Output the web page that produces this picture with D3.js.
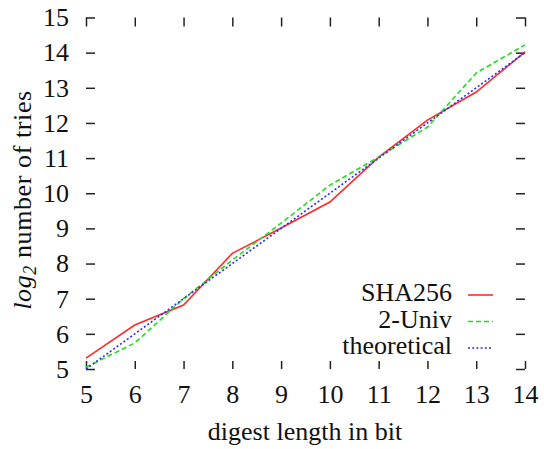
<!DOCTYPE html>
<html>
<head>
<meta charset="utf-8">
<script src="https://cdn.jsdelivr.net/npm/d3@7"></script>
<style>
  body { margin: 0; background: #fff; }
</style>
</head>
<body>
<div id="chart"></div>
<script>
// data
var digestBits = [5, 6, 7, 8, 9, 10, 11, 12, 13, 14];
var sha256Tries = [5.31, 6.25, 6.82, 8.29, 9.01, 9.75, 11.03, 12.08, 12.88, 14.02];
var univTries = [5.05, 5.74, 7.0, 8.1, 9.15, 10.23, 11.03, 11.88, 13.42, 14.22];
var theoreticalTries = [5, 6, 7, 8, 9, 10, 11, 12, 13, 14];
var xTicks = [5, 6, 7, 8, 9, 10, 11, 12, 13, 14];
var yTicks = [5, 6, 7, 8, 9, 10, 11, 12, 13, 14, 15];
var seriesNames = ["SHA256", "2-Univ", "theoretical"];

var svgWidth = 544;
var svgHeight = 449;
var fontSize = 26;
var serif = "Liberation Serif";

var svg = d3.select("#chart")
  .append("svg")
  .attr("width", svgWidth)
  .attr("height", svgHeight)
  .attr("font-family", serif);

var xScale = d3.scaleLinear().domain([5, 14]).range([86, 525]);
var yScale = d3.scaleLinear().domain([5, 15]).range([369, 17.5]);

// axes: ticks only, pointing inwards, no border line
function styleAxis(g) {
  g.attr("font-family", serif).attr("font-size", fontSize);
  g.select(".domain").remove();
  g.selectAll("line").attr("stroke", "#222").attr("stroke-width", 1.5);
  g.selectAll("text")
    .attr("font-family", serif)
    .attr("font-size", fontSize)
    .attr("fill", "#111");
}

svg.append("g")
  .attr("transform", `translate(0, ${yScale(5)})`)
  .call(d3.axisBottom(xScale).tickValues(xTicks).tickSize(-8).tickPadding(15.5))
  .call(styleAxis);

svg.append("g")
  .attr("transform", `translate(0, ${yScale(15)})`)
  .call(d3.axisTop(xScale).tickValues(xTicks).tickSize(-9).tickFormat(""))
  .call(styleAxis);

svg.append("g")
  .attr("transform", `translate(${xScale(5)}, 0)`)
  .call(d3.axisLeft(yScale).tickValues(yTicks).tickSize(-9).tickPadding(17))
  .call(styleAxis);

svg.append("g")
  .attr("transform", `translate(${xScale(14)}, 0)`)
  .call(d3.axisRight(yScale).tickValues(yTicks).tickSize(-9).tickFormat(""))
  .call(styleAxis);

// lines
var series = [
  { name: seriesNames[0], values: sha256Tries, color: "#ff2a2a", dash: null },
  { name: seriesNames[1], values: univTries, color: "#22dd22", dash: "5,3" },
  { name: seriesNames[2], values: theoreticalTries, color: "#2a2aff", dash: "2,2.2" }
];

var line = d3.line()
  .x((d, i) => xScale(digestBits[i]))
  .y(d => yScale(d));

series.forEach(function(s) {
  svg.append("path")
    .datum(s.values)
    .attr("d", line)
    .attr("fill", "none")
    .attr("stroke", s.color)
    .attr("stroke-width", 1.6)
    .attr("stroke-dasharray", s.dash);
});

// legend
var legend = svg.append("g");
series.forEach(function(s, i) {
  var base = 301 + i * 26.5;
  legend.append("text")
    .attr("x", 452)
    .attr("y", base)
    .attr("text-anchor", "end")
    .attr("fill", "#111")
    .attr("font-family", serif)
    .attr("font-size", fontSize)
    .text(s.name);
  legend.append("line")
    .attr("x1", 468)
    .attr("x2", 493)
    .attr("y1", base - 6)
    .attr("y2", base - 6)
    .attr("stroke", s.color)
    .attr("stroke-width", 1.6)
    .attr("stroke-dasharray", s.dash);
});

// axis titles
svg.append("text")
  .attr("x", 305)
  .attr("y", 440)
  .attr("text-anchor", "middle")
  .attr("fill", "#111")
  .attr("font-family", serif)
  .attr("font-size", fontSize)
  .text("digest length in bit");

var yTitle = svg.append("text")
  .attr("transform", "rotate(-90)")
  .attr("x", -200)
  .attr("y", 31)
  .attr("text-anchor", "middle")
  .attr("fill", "#111")
  .attr("font-family", serif)
  .attr("font-size", fontSize)
  .attr("letter-spacing", 0.6);
yTitle.append("tspan").attr("font-style", "italic").text("log");
yTitle.append("tspan").attr("dy", 5).attr("font-size", 18).attr("font-style", "italic").text("2");
yTitle.append("tspan").attr("dy", -5).text(" number of tries");
</script>
</body>
</html>
